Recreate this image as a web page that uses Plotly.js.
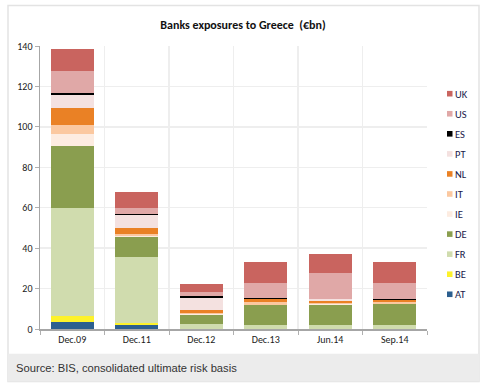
<!DOCTYPE html>
<html><head><meta charset="utf-8">
<script src="https://cdn.plot.ly/plotly-3.0.1.min.js"></script>
<style>html,body{margin:0;padding:0;background:#fff}#chart{width:487px;height:389px}</style>
</head><body><div id="chart"></div>
<script>
const categories = ["Dec.09","Dec.11","Dec.12","Dec.13","Jun.14","Sep.14"];
const AT = [3.6, 2.1, 0.1, 0.1, 0.1, 0.1];
const BE = [3.0, 0.7, 0.1, 0.1, 0.1, 0.1];
const FR = [53.4, 32.9, 2.4, 1.9, 1.9, 1.6];
const DE = [30.5, 9.9, 4.5, 9.9, 10.0, 10.7];
const IE = [5.9, 0.2, 0.1, 0.1, 0.1, 0.1];
const IT = [4.4, 1.4, 0.5, 1.5, 0.9, 0.8];
const NL = [8.4, 3.0, 1.9, 1.1, 1.0, 0.8];
const PT = [6.8, 6.1, 5.5, 0.2, 0.5, 0.2];
const ES = [0.8, 0.5, 1.1, 0.5, 0.0, 0.5];
const US = [10.7, 3.3, 2.3, 7.3, 13.3, 7.8];
const UK = [10.8, 7.9, 4.0, 10.3, 9.4, 10.3];

const series = [
  ["AT", AT, "#2c5f8f"], ["BE", BE, "#fdf22b"], ["FR", FR, "#d0dcae"],
  ["DE", DE, "#8a9e4f"], ["IE", IE, "#fdece1"], ["IT", IT, "#fbc8a0"],
  ["NL", NL, "#ea8125"], ["PT", PT, "#f4e1e0"], ["ES", ES, "#000000"],
  ["US", US, "#e0a8a7"], ["UK", UK, "#c9645f"]
];
const traces = series.map(([name, vals, color]) => ({
  type: "bar", name: name, x: categories, y: vals, showlegend: false,
  marker: {color: color, line: {width: 0}}, hoverinfo: "name+y"
}));

const L = 40, R = 427, T = 45.7, B = 329.3;
const px = v => (v - L) / (R - L);
const py = v => (B - v) / (B - T);

const shapes = [
  {type: "rect", xref: "paper", yref: "paper", x0: px(8), x1: px(479), y0: py(382), y1: py(5),
   line: {color: "#e3e3e3", width: 1.5}, fillcolor: "rgba(0,0,0,0)", layer: "below"},
  {type: "rect", xref: "paper", yref: "paper", x0: px(8), x1: px(479), y0: py(382), y1: py(354),
   line: {width: 0}, fillcolor: "#ececec", layer: "below"}
];
const annotations = [
  {xref: "paper", yref: "paper", x: px(14), y: py(368.5), xanchor: "left", yanchor: "middle",
   text: "Source: BIS, consolidated ultimate risk basis", showarrow: false,
   font: {family: "'Liberation Sans', Arial, sans-serif", size: 11.2, color: "#333333"}}
];
// legend (top = last series)
series.slice().reverse().forEach(([name, vals, color], k) => {
  const yc = 93.5 + k * 20.1;
  shapes.push({type: "rect", xref: "paper", yref: "paper", x0: px(447), x1: px(452.5),
    y0: py(yc + 2.8), y1: py(yc - 2.8), line: {width: 0}, fillcolor: color});
  annotations.push({xref: "paper", yref: "paper", x: px(453), y: py(yc + 0.5), xanchor: "left", yanchor: "middle",
    text: name, showarrow: false, font: {size: 10.5, color: "#1a1a4a"}});
});

const layout = {
  width: 487, height: 389,
  margin: {l: 40, r: 60, t: 45.7, b: 59.7, autoexpand: false},
  paper_bgcolor: "#ffffff", plot_bgcolor: "#ffffff",
  barmode: "stack", bargap: 0.34, showlegend: false,
  font: {family: "Carlito, Lato, 'Liberation Sans', sans-serif", color: "#1a1a1a", size: 10},
  title: {text: "<b>Banks exposures to Greece  (€bn)</b>", x: 243/487, xanchor: "center",
          y: 1 - 25/389, yanchor: "middle", yref: "container",
          font: {size: 12, color: "#111111", family: "Carlito, Lato, sans-serif"}},
  xaxis: {type: "category", tickson: "boundaries", showgrid: true, gridcolor: "#eeeeee", gridwidth: 1.5,
          ticks: "outside", ticklen: 4, tickcolor: "#b0b0b0", showline: true, linecolor: "#a6a6a6", linewidth: 1.5,
          tickfont: {size: 10, color: "#1a1a1a"}, fixedrange: true},
  yaxis: {range: [0, 140], dtick: 20, showgrid: true, gridcolor: "#eeeeee", gridwidth: 1.5,
          ticks: "outside", ticklen: 4, tickcolor: "#b0b0b0", showline: true, linecolor: "#a6a6a6", linewidth: 1.5,
          zeroline: false, tickfont: {size: 10, color: "#1a1a1a"}, fixedrange: true},
  shapes: shapes,
  annotations: annotations
};
Plotly.newPlot("chart", traces, layout, {displayModeBar: false, staticPlot: true});
</script></body></html>
